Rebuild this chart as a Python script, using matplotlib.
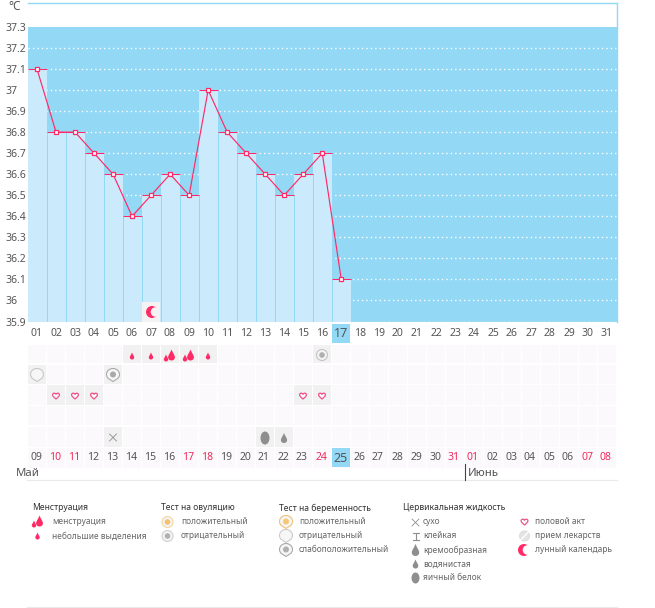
import matplotlib
matplotlib.use('Agg')
from matplotlib import pyplot as plt
from matplotlib.patches import Circle, Ellipse, PathPatch, Rectangle
from matplotlib.path import Path

plt.rcParams['font.family'] = ['Noto Sans', 'DejaVu Sans']

# Data
days = list(range(1, 32))
temps = [37.1, 36.8, 36.8, 36.7, 36.6, 36.4, 36.5, 36.6, 36.5, 37.0, 36.8, 36.7, 36.6, 36.5, 36.6, 36.7, 36.1]
y_ticks = [35.9, 36, 36.1, 36.2, 36.3, 36.4, 36.5, 36.6, 36.7, 36.8, 36.9, 37, 37.1, 37.2, 37.3]
top_labels = [f'{d:02d}' for d in days]
date_labels = ['09', '10', '11', '12', '13', '14', '15', '16', '17', '18', '19', '20', '21', '22', '23', '24',
               '25', '26', '27', '28', '29', '30', '31', '01', '02', '03', '04', '05', '06', '07', '08']
red_dates = [2, 3, 9, 10, 16, 23, 24, 30, 31]
today = 17

moon_days = [7]
small_flow_days = [6, 7, 10]
big_flow_days = [8, 9]
preg_neg_days = [1]
preg_weak_days = [5]
ovul_neg_days = [16]
sex_days = [2, 3, 4, 15, 16]
dry_days = [5]
egg_days = [13]
watery_days = [14]

BLUE = '#93D8F5'
LIGHT = '#CBEBFD'
PINK = '#FF2A66'
TEXT = '#555555'
RED = '#EE2A5C'
CELL = '#FBF9FB'
CELL_ON = '#F2F1F2'
GRAY = '#8E8E8E'

DROP = [(0, -1), (0.25, -0.35), (0.62, 0.05), (0.62, 0.42), (0.62, 0.8), (0.3, 1), (0, 1),
        (-0.3, 1), (-0.62, 0.8), (-0.62, 0.42), (-0.62, 0.05), (-0.25, -0.35), (0, -1), (0, -1)]
CURVE_CODES = [Path.MOVETO] + [Path.CURVE4] * 12 + [Path.CLOSEPOLY]
HEART = [(0, 0.85), (-0.35, 0.5), (-1, 0.1), (-1, -0.35), (-1, -0.8), (-0.3, -1), (0, -0.45),
         (0.3, -1), (1, -0.8), (1, -0.35), (1, 0.1), (0.35, 0.5), (0, 0.85), (0, 0.85)]
BLOB = [(0, 1), (-0.3, 0.75), (-1, 0.6), (-1, -0.1), (-1, -0.6), (-0.55, -1), (0, -1),
        (0.55, -1), (1, -0.6), (1, -0.1), (1, 0.6), (0.3, 0.75), (0, 1), (0, 1)]


def col_x(day):
    return 37 + 19 * (day - 1)


def draw_shape(ax, verts, x, y, sx, sy, **kw):
    pts = [(x + vx * sx, y + vy * sy) for vx, vy in verts]
    ax.add_patch(PathPatch(Path(pts, CURVE_CODES), **kw))


def drop(ax, x, y, h, color):
    # y axis points down in pixel coordinates, so the tip goes up
    draw_shape(ax, DROP, x, y, h / 2, h / 2, fc=color, ec='none')


def heart(ax, x, y):
    draw_shape(ax, HEART, x, y, 3.4, 3.6, fc='white', ec='#F0508A', lw=0.9)


def flow(ax, x, y, big):
    if big:
        drop(ax, x + 1.5, y - 1, 11, PINK)
        drop(ax, x - 4, y + 2, 7, PINK)
    else:
        drop(ax, x, y, 7, PINK)


def moon(ax, x, y, bg):
    ax.add_patch(Circle((x, y), 6, fc=PINK, ec='none'))
    ax.add_patch(Circle((x + 3.5, y), 4.8, fc=bg, ec='none'))


def test_icon(ax, x, y, outer, inner):
    ax.add_patch(Circle((x, y), 5.5, fc='#F4F4F4', ec=outer, lw=0.8))
    ax.add_patch(Circle((x, y), 2.8, fc=inner, ec='none'))


def preg_icon(ax, x, y, outer, inner=None):
    draw_shape(ax, BLOB, x, y, 6.5, 6.5, fc='#F6F6F6', ec=outer, lw=0.8)
    if inner:
        ax.add_patch(Circle((x, y - 0.5), 3, fc=inner, ec='none'))


def cell(ax, day, top, bottom, color):
    ax.add_patch(Rectangle((col_x(day) - 9, top), 18, bottom - top, fc=color, ec='none'))


fig = plt.figure(figsize=(6.55, 6.08), dpi=100, facecolor='white')

# temperature chart, pixel box 27.5..617 x 3..321.5
ax = fig.add_axes([27.5 / 655, 1 - 321.5 / 608, 589.5 / 655, 318.5 / 608])
ax.set_xlim(0.5, 31.5)
ax.set_ylim(35.9, 35.9 + 318.5 / 210.4)
ax.axhspan(35.9, 37.3, color=BLUE, lw=0, zorder=1)
for t in y_ticks[:-1]:
    ax.axhline(t, color='white', lw=1, ls=(0, (1, 2.2)), zorder=2)
bar_days = days[:len(temps)]
ax.bar(bar_days, [t - 35.9 for t in temps], bottom=35.9, width=1, color=LIGHT, lw=0, zorder=3)
# one pixel separators between neighbouring bars
ax.vlines([d + 0.5 for d in bar_days[:-1]], 35.9, [min(a, b) for a, b in zip(temps, temps[1:])],
          color=BLUE, lw=0.72, zorder=3.5)
ax.hlines(temps, [d - 0.5 for d in bar_days], [d + 0.5 for d in bar_days], color=PINK, lw=0.75, zorder=4)
ax.plot(bar_days, temps, color=PINK, lw=0.85, marker='s', ms=3.4, mfc='white', mec=PINK, mew=0.9, zorder=5)
for side in ('bottom', 'left'):
    ax.spines[side].set_visible(False)
for side in ('top', 'right'):
    ax.spines[side].set_color(BLUE)
    ax.spines[side].set_linewidth(1)
ax.set_xticks([])
ax.set_yticks(y_ticks, [f'{t:g}' for t in y_ticks])
# labels start at x=5, so they are left aligned with a long pad
ax.tick_params(axis='y', length=0, pad=16.2, labelsize=7.5, labelcolor=TEXT)
for lab in ax.get_yticklabels():
    lab.set_ha('left')

# everything below the chart is laid out in pixels
ov = fig.add_axes([0, 0, 1, 1], facecolor='none')
ov.set_xlim(0, 655)
ov.set_ylim(608, 0)
ov.axis('off')

ov.text(8, 7, '°C', fontsize=8.5, color=TEXT, va='center')

# moon cell sits on the chart
cell(ov, moon_days[0], 302, 322, '#F4F2F3')
moon(ov, col_x(moon_days[0]) + 1, 312, '#F4F2F3')

rows = [(345, 363), (365, 384), (385, 405), (406, 425), (427, 447)]
for top, bottom in rows + [(448, 468)]:
    for d in days:
        cell(ov, d, top, bottom, CELL)

for d in small_flow_days + big_flow_days:
    cell(ov, d, rows[0][0], rows[0][1], CELL_ON)
    flow(ov, col_x(d), 356, d in big_flow_days)
for d in ovul_neg_days:
    cell(ov, d, rows[0][0], rows[0][1], CELL_ON)
    test_icon(ov, col_x(d), 355, '#C4C4C4', '#B0B0B0')
for d in preg_neg_days:
    cell(ov, d, rows[1][0], rows[1][1], CELL_ON)
    preg_icon(ov, col_x(d), 375, '#C8C8C8')
for d in preg_weak_days:
    cell(ov, d, rows[1][0], rows[1][1], CELL_ON)
    preg_icon(ov, col_x(d), 375, '#AAAAAA', '#A8A8A8')
for d in sex_days:
    cell(ov, d, rows[2][0], rows[2][1], CELL_ON)
    heart(ov, col_x(d), 396)
for d in dry_days:
    cell(ov, d, rows[4][0], rows[4][1], CELL_ON)
    ov.plot([col_x(d) - 3.5, col_x(d) + 3.5], [434, 441], color=GRAY, lw=0.6)
    ov.plot([col_x(d) - 3.5, col_x(d) + 3.5], [441, 434], color=GRAY, lw=0.6)
for d in egg_days:
    cell(ov, d, rows[4][0], rows[4][1], CELL_ON)
    ov.add_patch(Ellipse((col_x(d), 438), 9, 13, fc=GRAY, ec='none'))
for d in watery_days:
    cell(ov, d, rows[4][0], rows[4][1], CELL_ON)
    drop(ov, col_x(d), 438, 10, GRAY)

# day numbers above and dates below
for d, lab in zip(days, top_labels):
    if d == today:
        ov.add_patch(Rectangle((col_x(d) - 5 - 4, 324), 18, 19, fc=BLUE, ec='none'))
    ov.text(col_x(d), 333.5, lab, fontsize=9 if d == today else 7.5, color=TEXT, ha='center', va='center')
for d, lab in zip(days, date_labels):
    if d == today:
        ov.add_patch(Rectangle((col_x(d) - 9, 448), 18, 19, fc=BLUE, ec='none'))
    color = RED if d in red_dates else TEXT
    ov.text(col_x(d) - 1, 458, lab, fontsize=9 if d == today else 7.5, color=color, ha='center', va='center')

ov.text(16, 474, 'Май', fontsize=8.2, color=TEXT, va='center')
ov.text(468, 474, 'Июнь', fontsize=8.2, color=TEXT, va='center')
ov.plot([27, 617], [479.5, 479.5], color='#EAEAEA', lw=0.8)
ov.plot([465, 465], [464, 480], color='#444444', lw=0.8)
ov.plot([27, 617], [607, 607], color='#EAEAEA', lw=0.8)

# legend
heads = [(32, 'Менструация'), (161, 'Тест на овуляцию'), (279, 'Тест на беременность'), (403, 'Цервикальная жидкость')]
for x, label in heads:
    ov.text(x, 508, label, fontsize=6.15, color='#333333', va='center')

legend_items = [
    (52, 522, 'менструация'), (52, 536, 'небольшие выделения'),
    (181, 522, 'положительный'), (181, 536, 'отрицательный'),
    (299, 522, 'положительный'), (299, 536, 'отрицательный'), (299, 550, 'слабоположительный'),
    (423, 522, 'сухо'), (423, 536, 'клейкая'), (423, 550, 'кремообразная'), (423, 564, 'водянистая'), (423, 578, 'яичный белок'),
    (535, 522, 'половой акт'), (535, 536, 'прием лекарств'), (535, 550, 'лунный календарь'),
]
for x, y, label in legend_items:
    ov.text(x, y, label, fontsize=6.0, color='#666666', va='center')

flow(ov, 38, 522, True)
flow(ov, 37.5, 536, False)
test_icon(ov, 167.5, 522, '#F5D8A0', '#F5C070')
test_icon(ov, 167.5, 536, '#D0D0D0', '#B0B0B0')
preg_icon(ov, 286, 522, '#F2C078', '#F5C878')
preg_icon(ov, 286, 536, '#CCCCCC')
preg_icon(ov, 286, 550, '#AAAAAA', '#B0B0B0')
ov.plot([412, 419], [519, 526], color=GRAY, lw=0.6)
ov.plot([412, 419], [526, 519], color=GRAY, lw=0.6)
ov.plot([415.5, 415.5], [533, 540], color=GRAY, lw=0.8)
ov.plot([412.5, 418.5], [533, 533], color=GRAY, lw=0.8)
ov.plot([412.5, 418.5], [540, 540], color=GRAY, lw=0.8)
drop(ov, 415.5, 550, 12, GRAY)
drop(ov, 415.5, 564, 9, GRAY)
ov.add_patch(Ellipse((415.5, 578), 8, 11, fc=GRAY, ec='none'))
heart(ov, 524.5, 522)
ov.add_patch(Circle((524.5, 536), 5, fc='#E4E4E4', ec='#D8D8D8', lw=0.6))
ov.plot([521, 528], [539.5, 532.5], color='white', lw=1)
moon(ov, 524, 550, 'white')

fig.savefig('out.png', dpi=100)
plt.close(fig)
